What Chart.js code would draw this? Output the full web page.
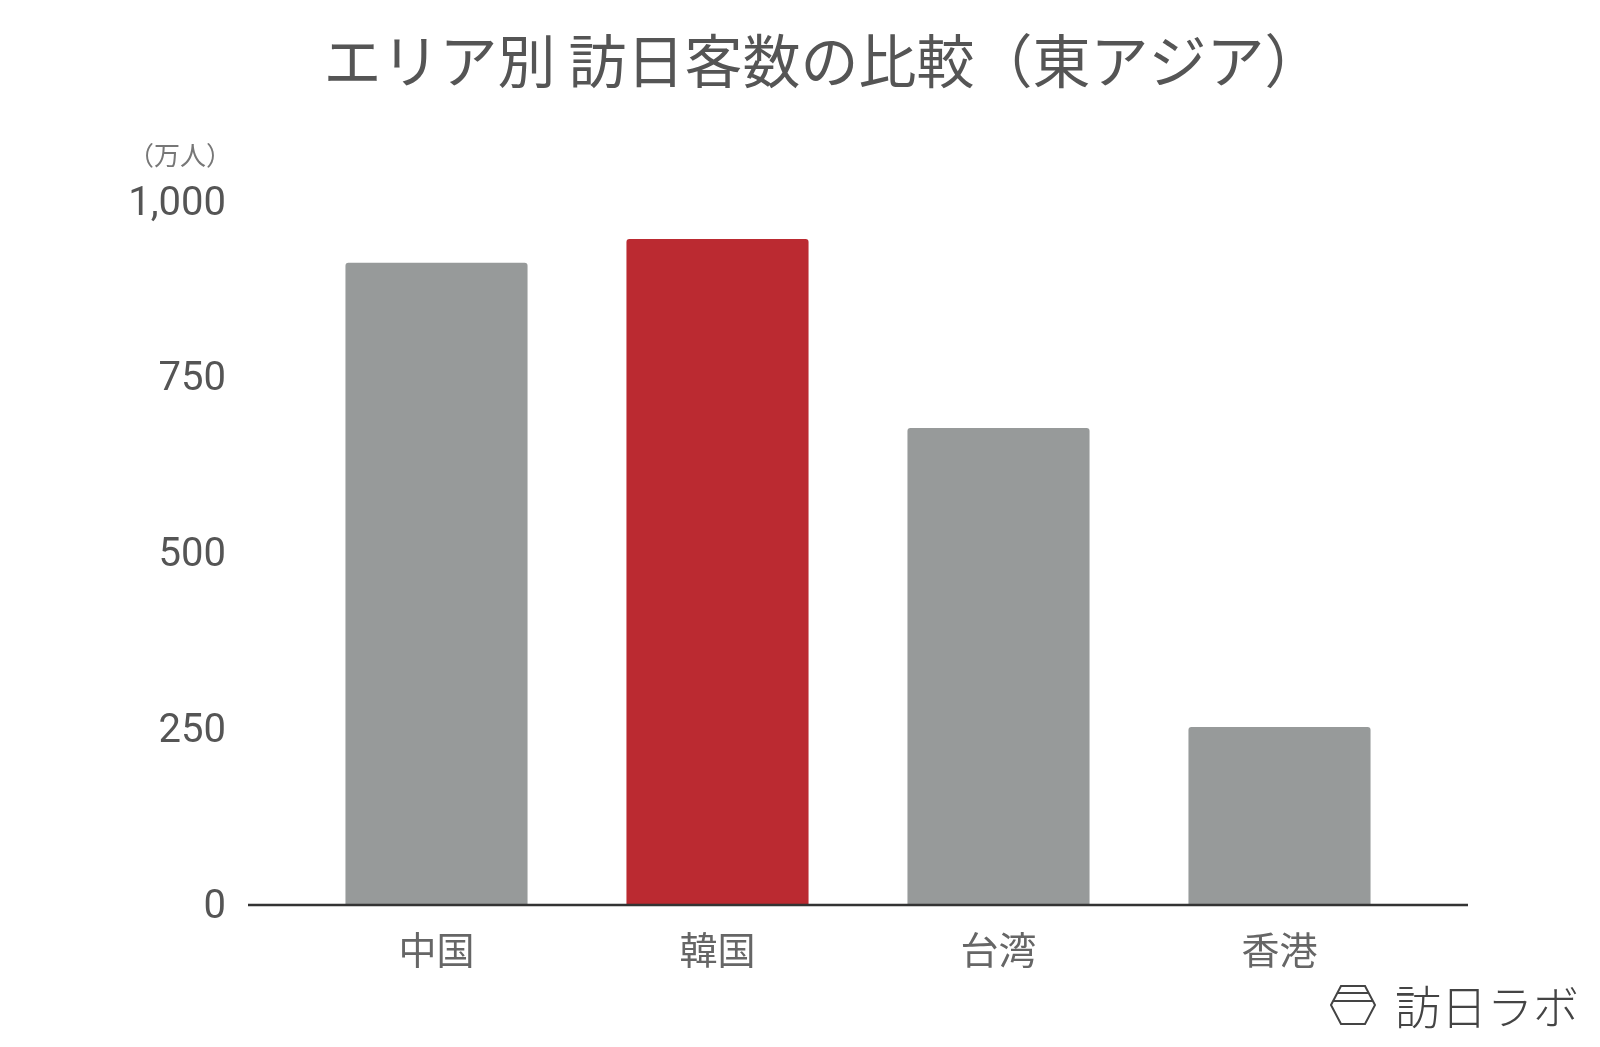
<!DOCTYPE html>
<html lang="ja">
<head>
<meta charset="utf-8">
<script src="https://cdn.jsdelivr.net/npm/chart.js@4.4.1/dist/chart.umd.min.js"></script>
<style>
  html, body { margin: 0; padding: 0; background: #fff; }
  #wrap { width: 1600px; height: 1047px; position: relative; }
</style>
</head>
<body>
<div id="wrap"><canvas id="areaChart"></canvas></div>
<script>
// --- data ---
const categories = ['中国', '韓国', '台湾', '香港'];
const visitors = [913, 947, 678, 253];          // 万人
const barColors = ['#979a9a', '#bb2a31', '#979a9a', '#979a9a'];
const yTicks = [0, 250, 500, 750, 1000];

const CJK = '"Noto Sans CJK JP", "Noto Sans", sans-serif';
const NUM = 'Roboto, "Liberation Sans", sans-serif';

// baseline, unit label and logo
const extras = {
  id: 'extras',
  afterDatasetsDraw(chart) {
    const { ctx, chartArea, scales } = chart;
    const y0 = scales.y.getPixelForValue(0);
    ctx.save();
    ctx.strokeStyle = '#333';
    ctx.lineWidth = 2.5;
    ctx.beginPath();
    ctx.moveTo(chartArea.left - 48, y0);
    ctx.lineTo(chartArea.right + 48, y0);
    ctx.stroke();

    // unit
    ctx.fillStyle = '#777';
    ctx.font = '26px ' + CJK;
    ctx.textAlign = 'right';
    ctx.textBaseline = 'middle';
    ctx.fillText('（万人）', 232, scales.y.getPixelForValue(1000) - 46);

    // logo
    ctx.strokeStyle = '#444';
    ctx.lineWidth = 2;
    const cx = 1353, cy = 1005;
    ctx.beginPath();
    ctx.moveTo(cx - 22, cy);
    ctx.lineTo(cx - 12, cy - 19);
    ctx.lineTo(cx + 12, cy - 19);
    ctx.lineTo(cx + 22, cy);
    ctx.lineTo(cx + 12, cy + 19);
    ctx.lineTo(cx - 12, cy + 19);
    ctx.closePath();
    ctx.moveTo(cx - 15, cy - 12); ctx.lineTo(cx + 15, cy - 12);
    ctx.moveTo(cx - 20, cy - 4); ctx.lineTo(cx + 20, cy - 4);
    ctx.stroke();
    ctx.fillStyle = '#444';
    ctx.font = '300 46px ' + CJK;
    ctx.textAlign = 'left';
    ctx.fillText('訪日ラボ', 1395, cy + 2);
    ctx.restore();
  }
};

new Chart(document.getElementById('areaChart'), {
  type: 'bar',
  data: {
    labels: categories,
    datasets: [{
      data: visitors,
      backgroundColor: barColors,
      borderRadius: { topLeft: 3, topRight: 3 },
      borderSkipped: 'bottom',
      categoryPercentage: 1,
      barPercentage: 0.648
    }]
  },
  options: {
    responsive: true,
    maintainAspectRatio: false,
    animation: false,
    devicePixelRatio: 1,
    // left padding so the title centres where it sits in the original
    layout: { padding: { left: 46, right: 0, top: 0, bottom: 0 } },
    plugins: {
      legend: { display: false },
      tooltip: { enabled: false },
      title: {
        display: true,
        text: 'エリア別 訪日客数の比較（東アジア）',
        color: '#555',
        font: { family: CJK, size: 58, weight: 'normal' },
        padding: { top: 26, bottom: 106 }
      }
    },
    scales: {
      x: {
        grid: { display: false, drawTicks: false },
        border: { display: false },
        ticks: { color: '#666', font: { family: CJK, size: 38 }, padding: 22 },
        afterFit(scale) { scale.height = 142; }
      },
      y: {
        min: 0,
        max: 1000,
        afterBuildTicks(scale) { scale.ticks = yTicks.map(v => ({ value: v })); },
        grid: { display: false, drawTicks: false },
        border: { display: false },
        ticks: {
          color: '#555',
          font: { family: NUM, size: 40 },
          padding: 70,
          labelOffset: 3,
          callback: v => v.toLocaleString('en-US')
        },
        afterFit(scale) { scale.width = 250; }
      },
      // empty right-hand margin (keeps the plot area where it is in the original)
      yRight: {
        position: 'right',
        grid: { display: false, drawTicks: false },
        border: { display: false },
        ticks: { display: false },
        afterFit(scale) { scale.width = 180; }
      }
    }
  },
  plugins: [extras]
});
</script>
</body>
</html>
